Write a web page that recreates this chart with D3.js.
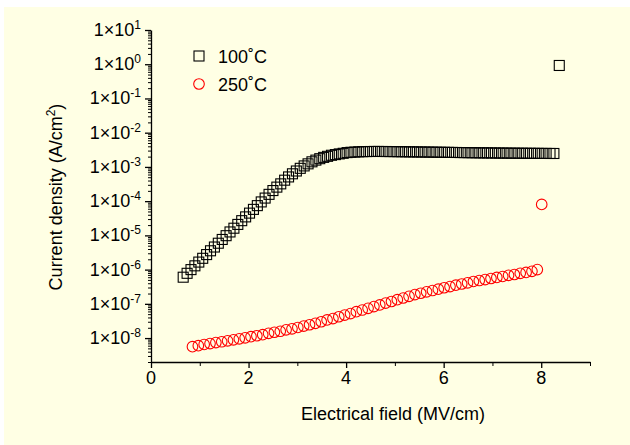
<!DOCTYPE html>
<html>
<head>
<meta charset="utf-8">
<script src="https://cdn.jsdelivr.net/npm/d3@7"></script>
<style>
  body { margin: 0; background: #ffffff; }
  text { font-family: "Liberation Sans", Arial, sans-serif; fill: #000; }
</style>
</head>
<body>
<div id="chart"></div>
<script>
// 100 C series (squares)
var field100 = [0.66, 0.74, 0.82, 0.90, 0.98, 1.06, 1.14, 1.22, 1.30, 1.38, 1.46, 1.54, 1.62, 1.70, 1.78, 1.86, 1.94,
  2.02, 2.10, 2.18, 2.26, 2.34, 2.42, 2.50, 2.58,
  2.66, 2.74, 2.82, 2.90, 2.98, 3.06, 3.14, 3.22, 3.30, 3.38, 3.46, 3.54, 3.62, 3.70, 3.78, 3.86, 3.94,
  4.02, 4.10, 4.18, 4.26, 4.34, 4.42, 4.50, 4.58, 4.66, 4.74, 4.82, 4.90, 4.98, 5.06, 5.14, 5.22, 5.30, 5.38,
  5.46, 5.54, 5.62, 5.70, 5.78, 5.86, 5.94, 6.02, 6.10, 6.18, 6.26, 6.34, 6.42, 6.50, 6.58, 6.66, 6.74, 6.82,
  6.90, 6.98, 7.06, 7.14, 7.22, 7.30, 7.38, 7.46, 7.54, 7.62, 7.70, 7.78, 7.86, 7.94, 8.02, 8.10, 8.18, 8.26,
  8.37];
var current100 = [6.0e-7, 7.8e-7, 1.0e-6, 1.29e-6, 1.66e-6, 2.14e-6, 2.75e-6, 3.55e-6, 4.57e-6, 5.9e-6, 7.6e-6, 9.8e-6, 1.26e-5, 1.62e-5, 2.09e-5, 2.69e-5, 3.47e-5,
  4.47e-5, 5.75e-5, 7.4e-5, 9.5e-5, 1.23e-4, 1.58e-4, 2.04e-4, 2.57e-4,
  3.2e-4, 4.1e-4, 5.1e-4, 6.3e-4, 7.6e-4, 9.1e-4, 1.07e-3, 1.23e-3, 1.41e-3, 1.58e-3, 1.74e-3, 1.9e-3, 2.04e-3, 2.19e-3, 2.29e-3, 2.4e-3, 2.5e-3,
  2.62e-3, 2.68e-3, 2.72e-3, 2.76e-3, 2.79e-3, 2.81e-3, 2.82e-3, 2.83e-3, 2.83e-3, 2.82e-3, 2.82e-3, 2.81e-3, 2.80e-3, 2.79e-3, 2.78e-3, 2.77e-3, 2.76e-3, 2.75e-3,
  2.74e-3, 2.73e-3, 2.72e-3, 2.71e-3, 2.70e-3, 2.69e-3, 2.68e-3, 2.67e-3, 2.66e-3, 2.65e-3, 2.64e-3, 2.63e-3, 2.62e-3, 2.61e-3, 2.60e-3, 2.59e-3, 2.58e-3, 2.57e-3,
  2.57e-3, 2.56e-3, 2.55e-3, 2.54e-3, 2.54e-3, 2.53e-3, 2.52e-3, 2.52e-3, 2.51e-3, 2.51e-3, 2.50e-3, 2.50e-3, 2.49e-3, 2.49e-3, 2.48e-3, 2.48e-3, 2.47e-3, 2.47e-3,
  0.92];

// 250 C series (circles)
var field250 = [0.85, 0.97, 1.09, 1.21, 1.33, 1.45, 1.57, 1.69, 1.81, 1.93, 2.05, 2.17, 2.29, 2.41, 2.53, 2.65, 2.77, 2.89, 3.01, 3.13,
  3.25, 3.37, 3.49, 3.61, 3.73, 3.85, 3.97, 4.09, 4.21, 4.33, 4.45, 4.57, 4.69, 4.81, 4.93, 5.05, 5.17, 5.29, 5.41, 5.53,
  5.65, 5.77, 5.89, 6.01, 6.13, 6.25, 6.37, 6.49, 6.61, 6.73, 6.85, 6.97, 7.09, 7.21, 7.33, 7.45, 7.57, 7.69, 7.81, 7.92,
  8.01];
var current250 = [5.6e-9, 6.0e-9, 6.5e-9, 6.9e-9, 7.4e-9, 7.8e-9, 8.3e-9, 8.9e-9, 9.5e-9, 1.02e-8, 1.10e-8, 1.17e-8, 1.26e-8, 1.38e-8, 1.48e-8, 1.58e-8, 1.74e-8, 1.86e-8, 2.04e-8, 2.24e-8,
  2.45e-8, 2.69e-8, 3.0e-8, 3.4e-8, 3.7e-8, 4.2e-8, 4.7e-8, 5.2e-8, 5.9e-8, 6.6e-8, 7.4e-8, 8.3e-8, 9.3e-8, 1.05e-7, 1.17e-7, 1.32e-7, 1.48e-7, 1.66e-7, 1.86e-7, 2.04e-7,
  2.24e-7, 2.45e-7, 2.69e-7, 2.95e-7, 3.2e-7, 3.5e-7, 3.8e-7, 4.1e-7, 4.5e-7, 4.8e-7, 5.1e-7, 5.5e-7, 5.9e-7, 6.3e-7, 6.8e-7, 7.2e-7, 7.8e-7, 8.3e-7, 8.9e-7, 1.0e-6,
  8.0e-5];

var xTicks = [0, 2, 4, 6, 8];
var yExponents = [1, 0, -1, -2, -3, -4, -5, -6, -7, -8];
var seriesNames = ["100\u02DAC", "250\u02DAC"];

var W = 630, H = 445;

var svg = d3.select("#chart").append("svg")
  .attr("width", W)
  .attr("height", H);

// light yellow page with thin white edge
svg.append("rect")
  .attr("x", 4).attr("y", 7)
  .attr("width", W - 4).attr("height", H - 7)
  .attr("fill", "#ffffe4");

var x = d3.scaleLinear().domain([0, 9]).range([151, 590]);
var y = d3.scaleLog().domain([2e-9, 10]).range([362, 30]);

// x axis: major + minor ticks
svg.append("g")
  .attr("transform", "translate(0," + y.range()[0] + ")")
  .call(d3.axisBottom(x).tickValues(xTicks).tickSize(6).tickSizeOuter(0).tickFormat(""))
  .call(function (g) { g.selectAll("line, path").attr("stroke", "#000").attr("stroke-width", 1.3); });

svg.append("g")
  .attr("transform", "translate(0," + y.range()[0] + ")")
  .call(d3.axisBottom(x).tickValues([1, 3, 5, 7, 9]).tickSize(4).tickSizeOuter(0).tickFormat(""))
  .call(function (g) { g.select("path").remove(); g.selectAll("line").attr("stroke", "#000").attr("stroke-width", 1); });

svg.selectAll(".xlab")
  .data(xTicks)
  .enter().append("text")
  .attr("class", "xlab")
  .attr("x", function (d) { return x(d); })
  .attr("y", 384)
  .attr("text-anchor", "middle")
  .style("font-size", "18px")
  .text(function (d) { return d; });

// y axis: majors at powers of ten, minors at 2..9
var yMajors = yExponents.map(function (e) { return Math.pow(10, e); });
var yMinors = y.ticks().filter(function (v) {
  var m = Math.round(v / Math.pow(10, Math.floor(Math.log10(v) + 1e-9)));
  return m !== 1;
});

svg.append("g")
  .attr("transform", "translate(" + x.range()[0] + ",0)")
  .call(d3.axisLeft(y).tickValues(yMajors).tickSize(6).tickSizeOuter(0).tickFormat(""))
  .call(function (g) { g.selectAll("line, path").attr("stroke", "#000").attr("stroke-width", 1.3); });

svg.append("g")
  .attr("transform", "translate(" + x.range()[0] + ",0)")
  .call(d3.axisLeft(y).tickValues(yMinors).tickSize(3).tickSizeOuter(0).tickFormat(""))
  .call(function (g) { g.select("path").remove(); g.selectAll("line").attr("stroke", "#000").attr("stroke-width", 1); });

var ylab = svg.selectAll(".ylab")
  .data(yExponents)
  .enter().append("text")
  .attr("class", "ylab")
  .attr("x", 141)
  .attr("y", function (d) { return y(Math.pow(10, d)) + 6; })
  .attr("text-anchor", "end")
  .style("font-size", "18px");
ylab.append("tspan").text("1\u00D710");
ylab.append("tspan")
  .attr("dy", -7)
  .style("font-size", "12px")
  .text(function (d) { return d; });

// axis titles
svg.append("text")
  .attr("x", 393)
  .attr("y", 420)
  .attr("text-anchor", "middle")
  .style("font-size", "18px")
  .text("Electrical field (MV/cm)");

var yt = svg.append("text")
  .attr("transform", "translate(62,197) rotate(-90)")
  .attr("text-anchor", "middle")
  .style("font-size", "18px");
yt.append("tspan").text("Current density (A/cm");
yt.append("tspan").attr("dy", -7).style("font-size", "12px").text("2");
yt.append("tspan").attr("dy", 7).text(")");

// 250 C circles
var d250 = field250.map(function (f, i) { return [f, current250[i]]; });
svg.selectAll(".c250")
  .data(d250)
  .enter().append("circle")
  .attr("class", "c250")
  .attr("cx", function (d) { return x(d[0]); })
  .attr("cy", function (d) { return y(d[1]); })
  .attr("r", 5.3)
  .attr("fill", "none")
  .attr("stroke", "#ff0000")
  .attr("stroke-width", 1.1);

// 100 C squares
var d100 = field100.map(function (f, i) { return [f, current100[i]]; });
var sq = 10;
svg.selectAll(".s100")
  .data(d100)
  .enter().append("rect")
  .attr("class", "s100")
  .attr("x", function (d) { return x(d[0]) - sq / 2; })
  .attr("y", function (d) { return y(d[1]) - sq / 2; })
  .attr("width", sq)
  .attr("height", sq)
  .attr("fill", "none")
  .attr("stroke", "#000")
  .attr("stroke-width", 1.1);

// legend
var leg = svg.append("g").attr("transform", "translate(199,56)");
leg.append("rect")
  .attr("x", -sq / 2).attr("y", -sq / 2)
  .attr("width", sq).attr("height", sq)
  .attr("fill", "none").attr("stroke", "#000").attr("stroke-width", 1.1);
leg.append("text").attr("x", 19).attr("y", 6.5).style("font-size", "18px").text(seriesNames[0]);
leg.append("circle")
  .attr("cx", 0).attr("cy", 28).attr("r", 5.3)
  .attr("fill", "none").attr("stroke", "#ff0000").attr("stroke-width", 1.1);
leg.append("text").attr("x", 19).attr("y", 34.5).style("font-size", "18px").text(seriesNames[1]);
</script>
</body>
</html>
